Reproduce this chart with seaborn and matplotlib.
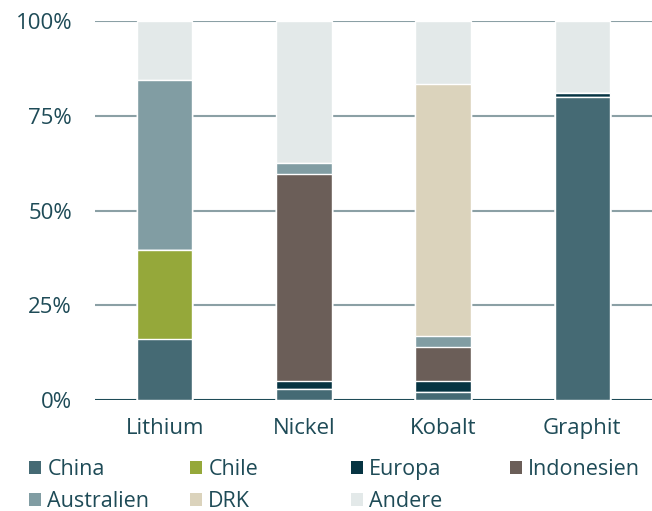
import numpy as np
import pandas as pd
import matplotlib
matplotlib.use("Agg")
import matplotlib.pyplot as plt
import seaborn as sns
from matplotlib.patches import Patch

# ---- data ----
categories = ["Lithium", "Nickel", "Kobalt", "Graphit"]
series_names = ["China", "Chile", "Europa", "Indonesien", "Australien", "DRK", "Andere"]
china      = [16.0, 3.0, 2.0, 80.0]
chile      = [23.5, 0.0, 0.0, 0.0]
europa     = [0.0, 2.0, 3.0, 1.0]
indonesien = [0.0, 54.5, 9.0, 0.0]
australien = [45.0, 3.0, 3.0, 0.0]
drk        = [0.0, 0.0, 66.5, 0.0]
andere     = [15.5, 37.5, 16.5, 19.0]
yticks = [0, 25, 50, 75, 100]
ytick_labels = ["0%", "25%", "50%", "75%", "100%"]

colors = ["#456a74", "#95a83a", "#063442", "#6b5e58", "#819da3", "#dbd3bc", "#e3e9e9"]
text_color = "#1e4b57"

sns.set_style("white")
plt.rcParams["font.family"] = ["Open Sans", "DejaVu Sans"]

values = [china, chile, europa, indonesien, australien, drk, andere]
df = pd.DataFrame({name: vals for name, vals in zip(series_names, values)}, index=categories)
cum = df.cumsum(axis=1)

fig = plt.figure(figsize=(6.52, 5.11), dpi=100)
ax = fig.add_axes([95 / 652, 1 - 400 / 511, 557 / 652, 379 / 511])

# gridlines
for t in yticks:
    ax.axhline(t, color=text_color if t == 0 else "#8ba0a5", lw=1.5, zorder=0.5)

# overlayed cumulative bars, top layer first
for name, col in reversed(list(zip(series_names, colors))):
    sns.barplot(x=categories, y=cum[name].values, color=col, saturation=1,
                width=0.4, edgecolor="white", linewidth=1, ax=ax, zorder=2)

ax.set_xlim(-0.5, 3.5)
ax.set_ylim(0, 100)
ax.set_yticks(yticks)
ax.set_yticklabels(ytick_labels)
ax.tick_params(axis="y", length=0, pad=16.5, labelsize=16, labelcolor=text_color)
ax.tick_params(axis="x", length=0, pad=13, labelsize=16, labelcolor=text_color)
for s in ax.spines.values():
    s.set_visible(False)
ax.set_xlabel("")
ax.set_ylabel("")

# legend: 4 equally spaced columns
col_x = [29, 190, 351, 510]
for i in range(4):
    idxs = [j for j in (i, i + 4) if j < len(series_names)]
    handles = [Patch(facecolor=colors[j], edgecolor="none") for j in idxs]
    labels = [series_names[j] for j in idxs]
    leg = fig.legend(handles, labels, loc="upper left",
                     bbox_to_anchor=(col_x[i] / 652, 1 - 459 / 511),
                     frameon=False, fontsize=15.5, handlelength=0.55, handleheight=0.55,
                     handletextpad=0.3, labelspacing=0.5, borderpad=0, borderaxespad=0)
    for t in leg.get_texts():
        t.set_color(text_color)

fig.savefig("out.png", dpi=100)
